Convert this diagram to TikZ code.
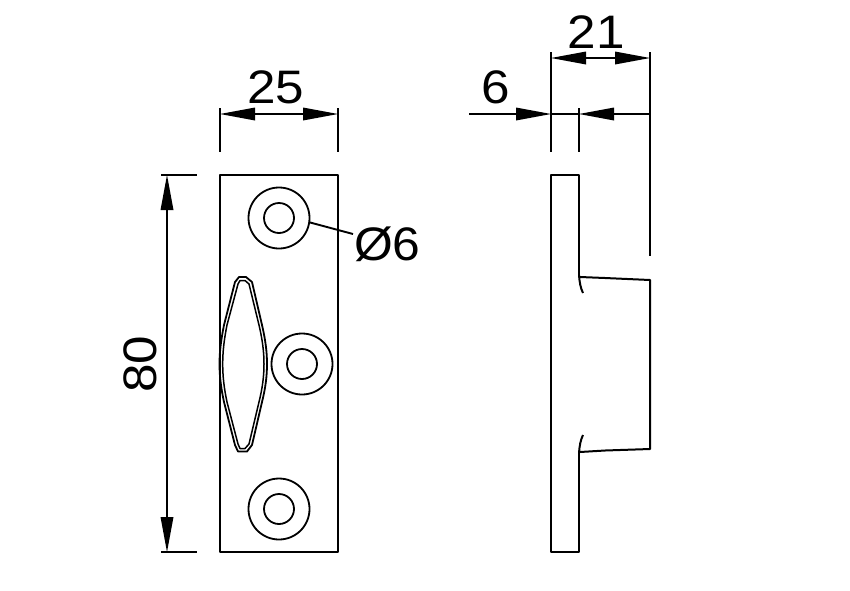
\documentclass[tikz,border=0pt]{standalone}
\usepackage{fontspec}
\setmainfont{Liberation Sans}
\usetikzlibrary{arrows.meta}
\newcommand{\dimstr}[1]{\scalebox{1.09}[1]{#1}}
\tikzset{
  part/.style={draw=black,line width=2pt,line join=round},
  hole/.style={circle,draw=black,line width=1.8pt,inner sep=0pt,outer sep=0pt,fill=none},
  dimline/.style={draw=black,line width=1.9pt},
  dimarrow/.style={dimline,-{Triangle[length=35pt,width=13pt,line width=0pt]}},
  dimboth/.style={dimline,{Triangle[length=35pt,width=13pt,line width=0pt]}-{Triangle[length=35pt,width=13pt,line width=0pt]}},
  dimtext/.style={inner sep=0pt,font=\fontsize{47}{47}\selectfont,text=black}
}
\begin{document}
\begin{tikzpicture}[x=1pt,y=-1pt]
\useasboundingbox (0,0) rectangle (850,590);
\fill[white] (0,0) rectangle (850,590);
% front view
\node[part,minimum width=118pt,minimum height=377pt,inner sep=0pt,outer sep=0pt,anchor=north west] (plate) at (220,175) {};
\foreach \n/\x/\y in {a/279/218,b/302/364,c/279/509}{
  \node[hole,minimum size=61pt] (\n outer) at (\x,\y) {};
  \node[hole,minimum size=30pt] (\n inner) at (\x,\y) {};
}
% slot
\draw[part,line width=1.8pt] (239,277) -- (246,277) -- (252,282) -- (262,325) .. controls (265.5,340) and (267,352) .. (267,364) .. controls (267,376) and (265.5,388) .. (262,402) -- (252,445) -- (247,451.5) -- (238,451.5) -- (235,445) -- (224,402) .. controls (221,388) and (219.5,376) .. (219.5,364) .. controls (219.5,352) and (221,340) .. (224,325) -- (235,282) -- cycle;
\draw[part,line width=1.5pt] (240,280.5) -- (245,280.5) -- (249,284) -- (259,325) .. controls (262.5,340) and (264,352) .. (264,364) .. controls (264,376) and (262.5,388) .. (259,402) -- (249,444) -- (245,448.5) -- (240,448.5) -- (238,444) -- (227,402) .. controls (224,388) and (222.7,376) .. (222.7,364) .. controls (222.7,352) and (224,340) .. (227,325) -- (238,284) -- cycle;
% side view
\draw[part] (579,275) -- (579,175) -- (551,175) -- (551,552) -- (579,552) -- (579,453);
\coordinate (bt) at (580,277);
\coordinate (btr) at (650,280);
\coordinate (bbr) at (650,449);
\coordinate (bb) at (580,452);
\draw[part] (bt) -- (605,278) -- (btr) -- (bbr) -- (605,450.5) -- (bb);
\draw[part] (579,275) .. controls (579.5,282) and (580.5,288) .. (583,293);
\draw[part] (579,453) .. controls (579.5,446) and (580.5,440) .. (583,435);
% dimension 25
\coordinate (e25l) at (220,108); \coordinate (e25lb) at (220,152);
\coordinate (e25r) at (338,108); \coordinate (e25rb) at (338,152);
\coordinate (d25l) at (220,114); \coordinate (d25r) at (338,114);
\draw[dimline] (e25l) -- (e25lb);
\draw[dimline] (e25r) -- (e25rb);
\draw[dimboth] (d25l) -- (d25r);
\node[dimtext] (t25) at (276,87) {\dimstr{25}};
% dimension 80
\coordinate (e80t) at (161,175); \coordinate (e80tr) at (197,175);
\coordinate (e80b) at (161,552); \coordinate (e80br) at (197,552);
\coordinate (d80t) at (167,175); \coordinate (d80b) at (167,552);
\draw[dimline] (e80t) -- (e80tr);
\draw[dimline] (e80b) -- (e80br);
\draw[dimboth] (d80t) -- (d80b);
\node[dimtext,rotate=90] (t80) at (140,364) {\dimstr{80}};
% diameter
\node[dimtext,anchor=west] (t6d) at (354,244) {\scalebox{1.06}[1]{Ø6}};
\coordinate (lead) at (353,234);
\draw[dimline] (aouter.-8) -- (lead);
% dimension 21
\coordinate (e21l) at (551,52); \coordinate (e21lb) at (551,152);
\coordinate (e21r) at (650,52); \coordinate (e21rb) at (650,256);
\coordinate (d21l) at (551,58); \coordinate (d21r) at (650,58);
\draw[dimline] (e21l) -- (e21lb);
\draw[dimline] (e21r) -- (e21rb);
\draw[dimboth] (d21l) -- (d21r);
\node[dimtext] (t21) at (596,32) {\dimstr{21}};
% dimension 6
\coordinate (e6) at (579,108); \coordinate (e6b) at (579,152);
\coordinate (d6a) at (469,114); \coordinate (d6b) at (551,114);
\coordinate (d6c) at (650,114); \coordinate (d6d) at (579,114);
\draw[dimline] (e6) -- (e6b);
\draw[dimarrow] (d6a) -- (d6b);
\draw[dimarrow] (d6c) -- (d6d);
\draw[dimline] (d6b) -- (d6d);
\node[dimtext] (t6) at (496,87) {\dimstr{6}};
\end{tikzpicture}
\end{document}
